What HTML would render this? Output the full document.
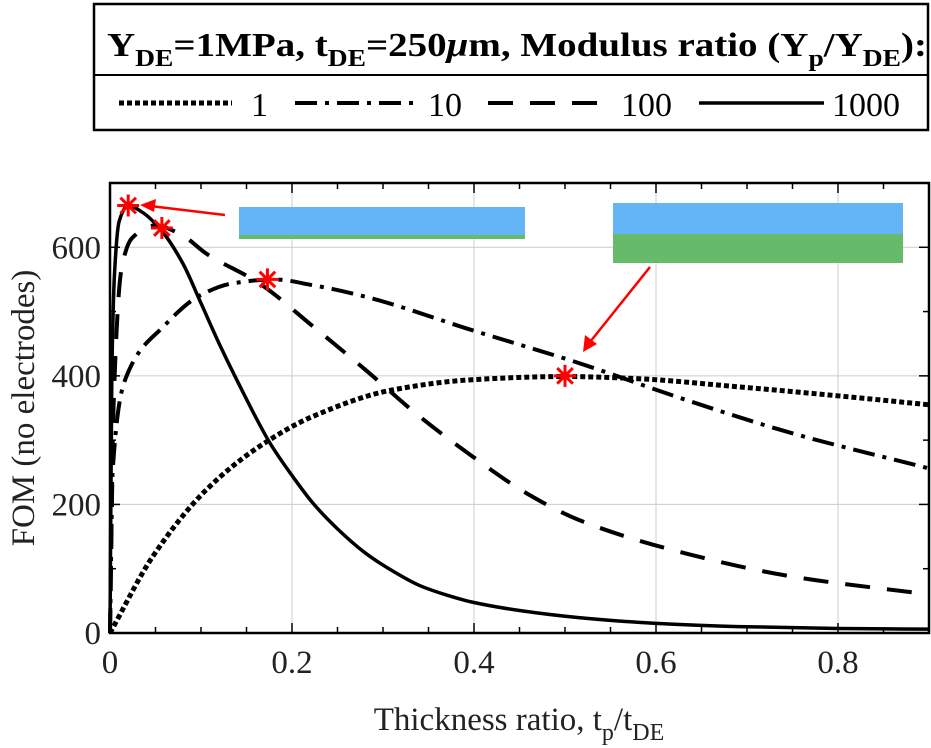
<!DOCTYPE html>
<html><head><meta charset="utf-8"><style>
html,body{margin:0;padding:0;background:#fff}
svg{display:block;font-family:"Liberation Serif",serif}
</style></head><body>
<svg id="chart" width="931" height="748" viewBox="0 0 931 748">
<g>
<rect x="94" y="4" width="834" height="126" fill="#fff" stroke="#000" stroke-width="2.5"/>
<line x1="94" y1="75" x2="928" y2="75" stroke="#000" stroke-width="2"/>
<text x="107" y="56" font-size="34" font-weight="bold" textLength="820" lengthAdjust="spacingAndGlyphs">Y<tspan font-size="24" dy="10">DE</tspan><tspan dy="-10">=1MPa, t</tspan><tspan font-size="24" dy="10">DE</tspan><tspan dy="-10">=250</tspan><tspan font-style="italic">μ</tspan><tspan>m, Modulus ratio (Y</tspan><tspan font-size="24" dy="10">p</tspan><tspan dy="-10">/Y</tspan><tspan font-size="24" dy="10">DE</tspan><tspan dy="-10">):</tspan></text>
<g><line x1="119" y1="103" x2="232" y2="103" stroke="#000" stroke-width="5" stroke-dasharray="5,3"/><text x="251" y="116" font-size="34">1</text></g>
<g><line x1="295" y1="103" x2="414" y2="103" stroke="#000" stroke-width="4" stroke-dasharray="22,8,4,8"/><text x="428" y="116" font-size="34">10</text></g>
<g><line x1="488" y1="103" x2="613" y2="103" stroke="#000" stroke-width="4" stroke-dasharray="25,17"/><text x="621" y="116" font-size="34">100</text></g>
<g><line x1="699" y1="103" x2="824" y2="103" stroke="#000" stroke-width="3.5"/><text x="832" y="116" font-size="34">1000</text></g>
</g>
<g id="grid"></g>
<g id="insets">
<rect x="239" y="207" width="286" height="28" fill="#64b5f6"/>
<rect x="239" y="235" width="286" height="4" fill="#66bb6a"/>
<rect x="613" y="203" width="290" height="31" fill="#64b5f6"/>
<rect x="613" y="234" width="290" height="29" fill="#66bb6a"/>
</g>
<g id="series"></g>
<g id="axes"></g>
<g id="annot">
<line x1="225" y1="215" x2="150" y2="206" stroke="#f00" stroke-width="2.5"/>
<polygon points="140,205 156,199 154,212" fill="#f00"/>
<line x1="650" y1="267" x2="590" y2="342" stroke="#f00" stroke-width="2.5"/>
<polygon points="583,352 585,335 597,344" fill="#f00"/>
</g>
<text x="519" y="730" font-size="33" text-anchor="middle" fill="#222">Thickness ratio, t<tspan font-size="24" dy="10">p</tspan><tspan dy="-10">/t</tspan><tspan font-size="24" dy="10">DE</tspan></text>
<text transform="translate(34,408) rotate(-90)" font-size="33" text-anchor="middle" fill="#222">FOM (no electrodes)</text>
</svg>
<script>
const xTicks=[0,0.2,0.4,0.6,0.8];
const xTickLabels=["0","0.2","0.4","0.6","0.8"];
const yTicks=[0,200,400,600];
const yTickLabels=["0","200","400","600"];
const x1=[0,0.002,0.005,0.01,0.02,0.035,0.056,0.08,0.1,0.12,0.141,0.176,0.2,0.223,0.25,0.281,0.31,0.34,0.37,0.398,0.45,0.515,0.6,0.69,0.8,0.9];
const y1000=[0,400,560,640,665,655,627,575,513,450,389,295,245,202,162,124,97,74,59,48,35,24,15,10,7,6];
const x2=[0,0.004,0.0125,0.024,0.05,0.08,0.106,0.164,0.223,0.281,0.34,0.398,0.457,0.515,0.632,0.749,0.9];
const y100=[0,357,565,614,634,618,590,544,477,409,337,275,218,176,124,88,60];
const x3=[0,0.003,0.018,0.059,0.1,0.135,0.18,0.223,0.281,0.398,0.515,0.632,0.749,0.9];
const y10=[0,254,399,477,526,544,550,541,523,471,420,363,311,256];
const x4=[0,0.047,0.106,0.164,0.223,0.31,0.398,0.5,0.574,0.69,0.807,0.9];
const y1=[0,119,223,290,337,378,394,399,396,383,368,355];
const starX=[0.02,0.057,0.173,0.5];
const starY=[665,630,550,400];

const L=110,R=929,T=183,B=633,XMAX=0.9,YMAX=700;
const sx=v=>L+v/XMAX*(R-L);
const sy=v=>B-v/YMAX*(B-T);
const NS="http://www.w3.org/2000/svg";
function mk(tag,attrs,parent){const e=document.createElementNS(NS,tag);for(const k in attrs)e.setAttribute(k,attrs[k]);parent.appendChild(e);return e;}
const grid=document.getElementById('grid'),axes=document.getElementById('axes'),series=document.getElementById('series'),annot=document.getElementById('annot');
xTicks.forEach((t,i)=>{
 if(t>0){const g=mk('line',{x1:sx(t),x2:sx(t),y1:T,y2:B,stroke:'#ccc','stroke-width':1},grid);
 
 }
 const tx=mk('text',{x:sx(t),y:673,'font-size':33,'text-anchor':'middle',fill:'#222'},axes);tx.textContent=xTickLabels[i];
 
 
});
yTicks.forEach((t,i)=>{
 if(t>0){const g=mk('line',{x1:L,x2:R,y1:sy(t),y2:sy(t),stroke:'#ccc','stroke-width':1},grid);
 
 }
 const tx=mk('text',{x:101,y:sy(t)+11,'font-size':33,'text-anchor':'end',fill:'#222'},axes);tx.textContent=yTickLabels[i];
 
 
});
for(let k=0;k<=18;k++){const v=k*0.05,len=(k%4==0)?10:6;
 mk('line',{x1:sx(v),x2:sx(v),y1:B,y2:B-len,stroke:'#000','stroke-width':1.5},axes);
 mk('line',{x1:sx(v),x2:sx(v),y1:T,y2:T+len,stroke:'#000','stroke-width':1.5},axes);}
for(let k=0;k<=7;k++){const v=k*100,len=(k%2==0)?10:6;
 mk('line',{x1:L,x2:L+len,y1:sy(v),y2:sy(v),stroke:'#000','stroke-width':1.5},axes);
 mk('line',{x1:R,x2:R-len,y1:sy(v),y2:sy(v),stroke:'#000','stroke-width':1.5},axes);}
const fr=mk('rect',{x:L,y:T,width:R-L,height:B-T,fill:'none',stroke:'#000','stroke-width':2.5},axes);


// monotone cubic (Fritsch-Carlson) through data points
function path(xs,ys){const n=xs.length,d=[],m=[];
 for(let i=0;i<n-1;i++)d.push((ys[i+1]-ys[i])/(xs[i+1]-xs[i]));
 m[0]=d[0];m[n-1]=d[n-2];
 for(let i=1;i<n-1;i++){if(d[i-1]*d[i]<=0)m[i]=0;else{const h0=xs[i]-xs[i-1],h1=xs[i+1]-xs[i];const w1=2*h1+h0,w2=h1+2*h0;m[i]=(w1+w2)/(w1/d[i-1]+w2/d[i]);}}
 let s='M'+sx(xs[0])+','+sy(ys[0]);
 for(let i=0;i<n-1;i++){const h=xs[i+1]-xs[i];
  s+=' C'+sx(xs[i]+h/3)+','+sy(ys[i]+m[i]*h/3)+' '+sx(xs[i+1]-h/3)+','+sy(ys[i+1]-m[i+1]*h/3)+' '+sx(xs[i+1])+','+sy(ys[i+1]);}
 return s;}
const s1=mk('path',{d:path(x4,y1),fill:'none',stroke:'#000','stroke-width':5,'stroke-dasharray':'5,3'},series);


const s10=mk('path',{d:path(x3,y10),fill:'none',stroke:'#000','stroke-width':4,'stroke-dasharray':'22,8,4,8'},series);


const s100=mk('path',{d:path(x2,y100),fill:'none',stroke:'#000','stroke-width':4,'stroke-dasharray':'25,17'},series);


const s1000=mk('path',{d:path(x1,y1000),fill:'none',stroke:'#000','stroke-width':3.5},series);


starX.forEach((v,i)=>{const cx=sx(v),cy=sy(starY[i]);const g=mk('g',{stroke:'#f00','stroke-width':3},annot);
 
 
 for(let a=0;a<4;a++){const an=a*Math.PI/4+Math.PI/2;mk('line',{x1:cx-11*Math.cos(an),y1:cy-11*Math.sin(an),x2:cx+11*Math.cos(an),y2:cy+11*Math.sin(an)},g);}});
</script>
</body></html>
